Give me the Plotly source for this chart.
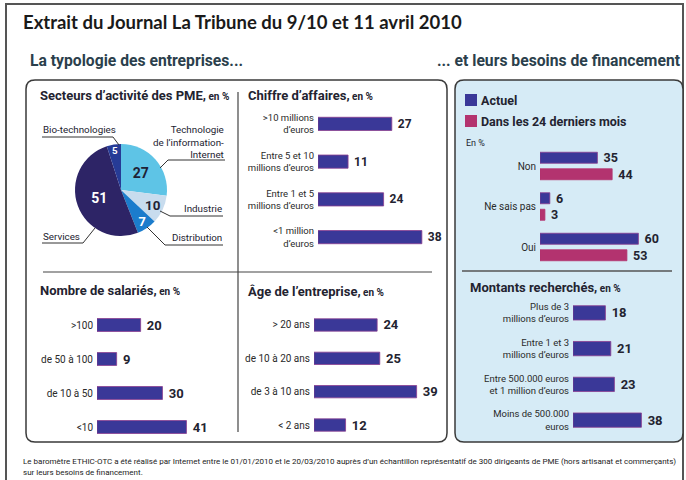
import plotly.graph_objects as go

# ---------------- DATA ----------------
sector_labels = ["Technologie<br>de l’information-<br>Internet", "Industrie", "Distribution", "Services", "Bio-technologies"]
sector_values = [27, 10, 7, 51, 5]

ca_categories = ["&gt;10 millions<br>d’euros", "Entre 5 et 10<br>millions d’euros", "Entre 1 et 5<br>millions d’euros", "&lt;1 million<br>d’euros"]
ca_values = [27, 11, 24, 38]

sal_categories = ["&gt;100", "de 50 à 100", "de 10 à 50", "&lt;10"]
sal_values = [20, 9, 30, 41]

age_categories = ["&gt; 20 ans", "de 10 à 20 ans", "de 3 à 10 ans", "&lt; 2 ans"]
age_values = [24, 25, 39, 12]

besoin_categories = ["Non", "Ne sais pas", "Oui"]
besoin_actuel = [35, 6, 60]
besoin_24mois = [44, 3, 53]
series_names = ["Actuel", "Dans les 24 derniers mois"]

montant_categories = ["Plus de 3<br>millions d’euros", "Entre 1 et 3<br>millions d’euros",
                      "Entre 500.000 euros<br>et 1 million d’euros", "Moins de 500.000<br>euros"]
montant_values = [18, 21, 23, 38]

# ---------------- STYLE ----------------
W, H = 686, 480
COND = "Roboto, Liberation Sans Narrow, sans-serif"
TITLEF = "Lato, Noto Sans, sans-serif"
BAR = "#3a3898"
BAR_EDGE = "#8a3d8f"
PINK = "#b3336f"
DARK = "#232330"
PIE_COLORS = ["#5ec4e6", "#c8dcee", "#1b7ccc", "#2d2466", "#263b96"]
PIE_TEXT_COLORS = ["#1f2235", "#1f2235", "white", "white", "white"]


def px(x):
    return x / W


def py(y):
    return 1 - y / H


fig = go.Figure()

# Pie
fig.add_trace(go.Pie(
    values=sector_values, labels=sector_labels, sort=False, direction="clockwise", rotation=0,
    marker=dict(colors=PIE_COLORS, line=dict(width=0)),
    textinfo="value", textposition="inside", insidetextorientation="horizontal",
    textfont=dict(size=14, color=PIE_TEXT_COLORS, family=COND, weight="bold"),
    domain=dict(x=[px(75), px(167)], y=[py(236), py(144)]),
    showlegend=False, hoverinfo="label+value",
))


def hbar(cats, vals, ax, width, fsize, color=BAR, name=None):
    return go.Bar(
        orientation="h", y=cats, x=vals, xaxis="x" + ax, yaxis="y" + ax,
        marker=dict(color=color, line=dict(color=BAR_EDGE if color == BAR else color, width=0.8)),
        width=width, text=vals, texttemplate="\u00a0%{x}", textposition="outside",
        textfont=dict(size=fsize, color=DARK, family=COND, weight="bold"),
        constraintext="none", cliponaxis=False, showlegend=False, name=name,
    )


fig.add_trace(hbar(ca_categories, ca_values, "", 0.35, 12))
fig.add_trace(hbar(sal_categories, sal_values, "2", 0.38, 13))
fig.add_trace(hbar(age_categories, age_values, "3", 0.37, 13))
for vals, col, nm in [(besoin_actuel, BAR, series_names[0]), (besoin_24mois, PINK, series_names[1])]:
    fig.add_trace(go.Bar(
        orientation="h", y=besoin_categories, x=vals, xaxis="x4", yaxis="y4", name=nm,
        marker=dict(color=col, line=dict(color=BAR_EDGE if col == BAR else col, width=0.8)),
        text=vals, texttemplate="\u00a0%{x}", textposition="outside",
        textfont=dict(size=12.5, color=DARK, family=COND, weight="bold"),
        constraintext="none", cliponaxis=False, showlegend=False,
    ))
fig.add_trace(hbar(montant_categories, montant_values, "5", 0.4, 13))

layout_axes = {}


def add_axes(key, xdom, ydom, xrange, tsize):
    layout_axes["xaxis" + key] = dict(domain=[px(xdom[0]), px(xdom[1])], range=xrange, visible=False,
                                      anchor="y" + key, fixedrange=True)
    layout_axes["yaxis" + key] = dict(domain=[py(ydom[1]), py(ydom[0])], autorange="reversed", type="category",
                                      anchor="x" + key, showline=False, showgrid=False, zeroline=False,
                                      ticks="", ticklen=0, ticklabelstandoff=3,
                                      tickfont=dict(family=COND, size=tsize, color="#2a2a2a"), fixedrange=True)


add_axes("", (318, 441), (105, 256), [0, 45], 9.5)
add_axes("2", (97, 217), (308, 444), [0, 55], 10)
add_axes("3", (314, 432.4), (308.3, 441.7), [0, 45], 10)
add_axes("4", (540, 663), (145.75, 267.25), [0, 75], 10)
add_axes("5", (573, 672), (295, 438), [0, 55], 9.5)

shapes = []


def rrect(x0, y0, x1, y1, r, fill, line, width=1.5):
    p = (f"M{px(x0+r)},{py(y0)} L{px(x1-r)},{py(y0)} Q{px(x1)},{py(y0)} {px(x1)},{py(y0+r)} "
         f"L{px(x1)},{py(y1-r)} Q{px(x1)},{py(y1)} {px(x1-r)},{py(y1)} "
         f"L{px(x0+r)},{py(y1)} Q{px(x0)},{py(y1)} {px(x0)},{py(y1-r)} "
         f"L{px(x0)},{py(y0+r)} Q{px(x0)},{py(y0)} {px(x0+r)},{py(y0)} Z")
    shapes.append(dict(type="path", path=p, xref="paper", yref="paper", fillcolor=fill,
                       line=dict(color=line, width=width), layer="below"))


def seg(pts, color="#333", width=1):
    p = "M" + " L".join(f"{px(x)},{py(y)}" for x, y in pts)
    shapes.append(dict(type="path", path=p, xref="paper", yref="paper",
                       line=dict(color=color, width=width), layer="above"))


# outer frame
shapes.append(dict(type="rect", xref="paper", yref="paper", x0=px(6), x1=px(683), y0=py(520), y1=py(4),
                   line=dict(color="#555", width=2), fillcolor="rgba(0,0,0,0)", layer="below"))
rrect(26, 80, 447, 442, 9, "white", "#3a3a3a")
rrect(455, 80, 683, 442, 9, "#d6ebf6", "#3a3a3a")
seg([(238, 92), (238, 432)], "#444", 1.2)
seg([(43, 272), (432, 272)], "#444", 1.2)
seg([(462, 271), (672, 271)], "#555", 1.5)

# pie leader lines
seg([(42, 137), (113, 137), (119, 145)])
seg([(225, 160), (168, 160), (160, 168)])
seg([(223, 216), (170, 216), (160, 211)])
seg([(223, 245), (165, 245), (147, 227)])
seg([(42, 243), (83, 243), (95, 228)])

# legend squares
shapes.append(dict(type="rect", xref="paper", yref="paper", x0=px(465), x1=px(477), y0=py(106), y1=py(94),
                   fillcolor=BAR, line=dict(width=0)))
shapes.append(dict(type="rect", xref="paper", yref="paper", x0=px(465), x1=px(477), y0=py(127), y1=py(115),
                   fillcolor=PINK, line=dict(width=0)))

ann = []


def text(x, y, s, size, family=COND, color=DARK, xanchor="left", align="left", bold=False):
    ann.append(dict(x=px(x), y=py(y), xref="paper", yref="paper", text=s, showarrow=False,
                    xanchor=xanchor, yanchor="middle", align=align,
                    font=dict(size=size, family=family, color=color, weight="bold" if bold else "normal")))


text(21, 22, "Extrait du Journal La Tribune du 9/10 et 11 avril 2010", 18.5, TITLEF, "#1a1a1a", bold=True)
text(28, 60, "La typologie des entreprises...", 15.7, COND, "#2b3f4c", bold=True)
text(683, 60, "... et leurs besoins de financement", 15.7, COND, "#2b3f4c", xanchor="right", bold=True)

small = "<span style='font-size:10px'> en %</span>"
text(38, 96, "Secteurs d’activité des PME," + small, 13, bold=True)
text(246, 96, "Chiffre d’affaires," + small, 13, bold=True)
text(38, 290, "Nombre de salariés," + small, 13, bold=True)
text(246, 291, "Âge de l’entreprise," + small, 13, bold=True)
text(468, 287, "Montants recherchés," + small, 13, bold=True)

# pie outer labels
text(41, 130, sector_labels[4], 9.8)
text(226, 142, sector_labels[0], 9.8, xanchor="right", align="right")
text(224, 208, sector_labels[1], 9.8, xanchor="right")
text(224, 237, sector_labels[2], 9.8, xanchor="right")
text(41, 236, sector_labels[3], 9.8)

# legend
text(479, 100, series_names[0], 12.5, bold=True)
text(479, 121, series_names[1], 12.5, bold=True)
text(464, 143, "En %", 9)

# footer
text(21, 461, "Le baromètre ETHIC-OTC a été réalisé par Internet entre le 01/01/2010 et le 20/03/2010 auprès d’un "
              "échantillon représentatif de 300 dirigeants de PME (hors artisanat et commerçants)", 8, color="#222")
text(21, 472, "sur leurs besoins de financement.", 8, color="#222")

fig.update_layout(
    width=W, height=H, autosize=False, margin=dict(l=0, r=0, t=0, b=0),
    paper_bgcolor="white", plot_bgcolor="rgba(0,0,0,0)",
    barmode="group", bargap=0.185, bargroupgap=0.333,
    shapes=shapes, annotations=ann, showlegend=False,
    **layout_axes,
)

fig.write_html("out.html", config={"displayModeBar": False},
               post_script="document.body.style.margin='0';document.body.style.padding='0';")
